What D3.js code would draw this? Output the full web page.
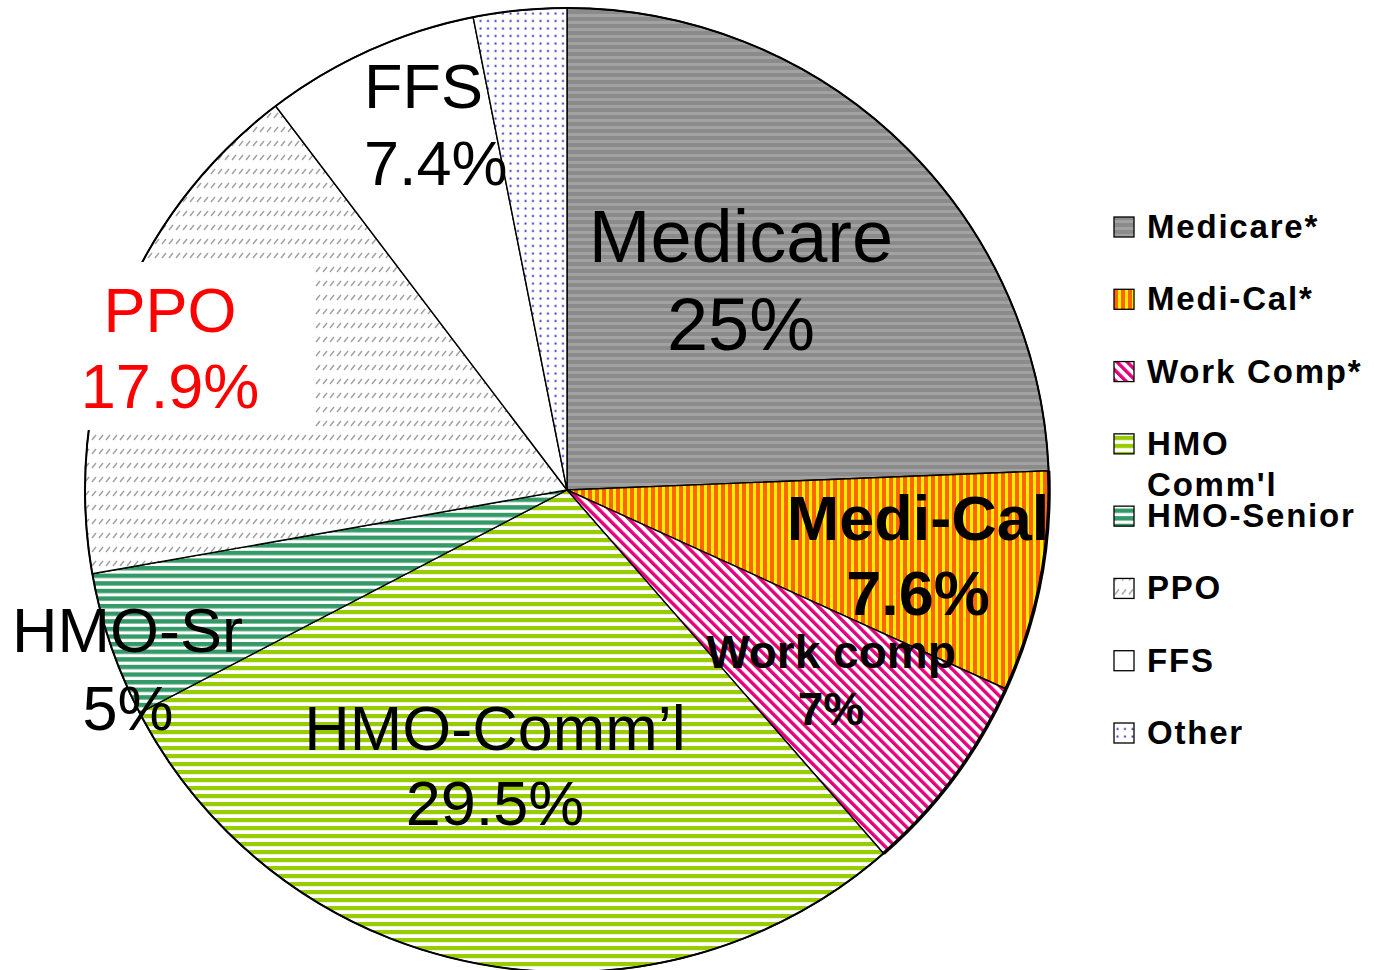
<!DOCTYPE html>
<html>
<head>
<meta charset="utf-8">
<script src="https://cdn.jsdelivr.net/npm/d3@7"></script>
<style>
  body { margin: 0; background: #fff; }
  svg { display: block; font-family: "Liberation Sans", Arial, sans-serif; }
</style>
</head>
<body>
<svg id="chart" width="1374" height="970"></svg>
<script>
// slice data, clockwise from 12 o'clock
let sliceKeys = ["medicare", "medical", "workcomp", "hmocomm", "hmosr", "ppo", "ffs", "other"];
let sliceValues = [25, 7.6, 7, 29.5, 5, 17.9, 7.4, 3.2];
let sliceNames = ["Medicare", "Medi-Cal", "Work comp", "HMO-Comm\u2019l", "HMO-Sr", "PPO", "FFS", "Other"];
let slicePercents = ["25%", "7.6%", "7%", "29.5%", "5%", "17.9%", "7.4%", ""];
let legendNames = [["Medicare*"], ["Medi-Cal*"], ["Work Comp*"], ["HMO", "Comm'l"], ["HMO-Senior"], ["PPO"], ["FFS"], ["Other"]];

let svg = d3.select("#chart");
let cx = 567, cy = 490, radius = 482;

let defs = svg.append("defs");

function stripes(id, w, h, bg, fg, x, y, sw, sh, transform) {
    let p = defs.append("pattern")
        .attr("id", id)
        .attr("patternUnits", "userSpaceOnUse")
        .attr("width", w)
        .attr("height", h);
    if (transform) p.attr("patternTransform", transform);
    p.append("rect").attr("width", w).attr("height", h).attr("fill", bg);
    p.append("rect").attr("x", x).attr("y", y).attr("width", sw).attr("height", sh).attr("fill", fg);
    return p;
}

stripes("p-medicare", 10, 7, "#8b8b8b", "#a2a2a2", 0, 0, 10, 3);
stripes("p-medical", 7, 10, "#ff6600", "#ffee00", 4, 0, 3, 10);
stripes("p-workcomp", 7.2, 10, "#ffffff", "#e4007c", 0, 0, 3.4, 10, "rotate(-45)");
stripes("p-hmocomm", 10, 8, "#ffffff", "#99cc00", 0, 0, 10, 4.2);
stripes("p-hmosr", 10, 7.6, "#ffffff", "#339966", 0, 0, 10, 4.4);
stripes("p-ffs", 10, 10, "#ffffff", "#ffffff", 0, 0, 0, 0);

let ppo = defs.append("pattern")
    .attr("id", "p-ppo")
    .attr("patternUnits", "userSpaceOnUse")
    .attr("width", 7).attr("height", 14);
ppo.append("rect").attr("width", 7).attr("height", 14).attr("fill", "#fff");
ppo.append("line")
    .attr("x1", 1).attr("y1", 6).attr("x2", 5).attr("y2", 1)
    .attr("stroke", "#a0a0a0").attr("stroke-width", 1.4);

let other = defs.append("pattern")
    .attr("id", "p-other")
    .attr("patternUnits", "userSpaceOnUse")
    .attr("width", 7.5).attr("height", 7.5);
other.append("rect").attr("width", 7.5).attr("height", 7.5).attr("fill", "#fff");
other.append("circle").attr("cx", 3.5).attr("cy", 3.5).attr("r", 1.1).attr("fill", "#3a3acc");

let pie = d3.pie().sort(null).startAngle(0).endAngle(2 * Math.PI);
let arcs = pie(sliceValues);
let arc = d3.arc().innerRadius(0).outerRadius(radius);

let g = svg.append("g").attr("transform", `translate(${cx},${cy})`);

g.selectAll("path.slice")
    .data(arcs)
    .join("path")
    .attr("class", "slice")
    .attr("d", arc)
    .attr("fill", (d, i) => `url(#p-${sliceKeys[i]})`)
    .attr("stroke", "#000")
    .attr("stroke-width", 1.4)
    .attr("stroke-linejoin", "round");

// outer rim: a little heavier than the radii, heaviest on the right-hand slices
let rim = d3.arc().innerRadius(radius).outerRadius(radius);
g.append("path")
    .attr("d", rim({startAngle: 0, endAngle: 2 * Math.PI}))
    .attr("fill", "none")
    .attr("stroke", "#000")
    .attr("stroke-width", 2);
g.selectAll("path.rim")
    .data(arcs.filter((d, i) => i === 1 || i === 2))
    .join("path")
    .attr("class", "rim")
    .attr("d", d => rim({startAngle: d.startAngle, endAngle: d.endAngle}))
    .attr("fill", "none")
    .attr("stroke", "#000")
    .attr("stroke-width", 3.5);

// slice labels (offsets relative to pie centre)
let labelLayout = [
    {x: 174, y1: -228, y2: -140, size: 74, weight: "normal", anchor: "middle", color: "#000"},
    {x: 351, y1: 50, y2: 125, size: 63, weight: "bold", anchor: "middle", color: "#000"},
    {x: 264, y1: 178, y2: 235, size: 46, weight: "bold", anchor: "middle", color: "#000"},
    {x: -72, y1: 260, y2: 335, size: 63, weight: "normal", anchor: "middle", color: "#000"},
    {x: -555, y1: 162, y2: 240, size: 63, weight: "normal", anchor: "start", color: "#000"},
    {x: -397, y1: -158, y2: -82, size: 63, weight: "normal", anchor: "middle", color: "#ff0000"},
    {x: -203, y1: -382, y2: -305, size: 63, weight: "normal", anchor: "start", color: "#000"}
];

// white box behind the PPO label
g.append("rect")
    .attr("x", 83 - cx).attr("y", 262 - cy)
    .attr("width", 230).attr("height", 168)
    .attr("fill", "#fff");

labelLayout.forEach((L, i) => {
    let t = g.append("text")
        .attr("text-anchor", L.anchor)
        .attr("font-size", L.size)
        .attr("font-weight", L.weight)
        .attr("fill", L.color);
    t.append("tspan").attr("x", L.x).attr("y", L.y1).text(sliceNames[i]);
    let x2 = L.x;
    if (i === 4) { x2 = -439; }
    t.append("tspan").attr("x", x2).attr("y", L.y2)
        .attr("text-anchor", i === 4 ? "middle" : null)
        .text(slicePercents[i]);
});

// legend
let legendY = d3.scalePoint().domain(d3.range(8)).range([227, 733]);
let legend = svg.append("g");
let items = legend.selectAll("g")
    .data(legendNames)
    .join("g")
    .attr("transform", (d, i) => `translate(1114,${legendY(i)})`);

items.append("rect")
    .attr("x", 0).attr("y", -10)
    .attr("width", 20).attr("height", 20)
    .attr("fill", (d, i) => `url(#p-${sliceKeys[i]})`)
    .attr("stroke", "#000")
    .attr("stroke-width", 1.3);

items.each(function (d) {
    let t = d3.select(this).append("text")
        .attr("font-size", 33)
        .attr("font-weight", "bold")
        .attr("letter-spacing", 1.8);
    d.forEach((line, k) => {
        t.append("tspan").attr("x", 33).attr("y", 11 + k * 41).text(line);
    });
});
</script>
</body>
</html>
